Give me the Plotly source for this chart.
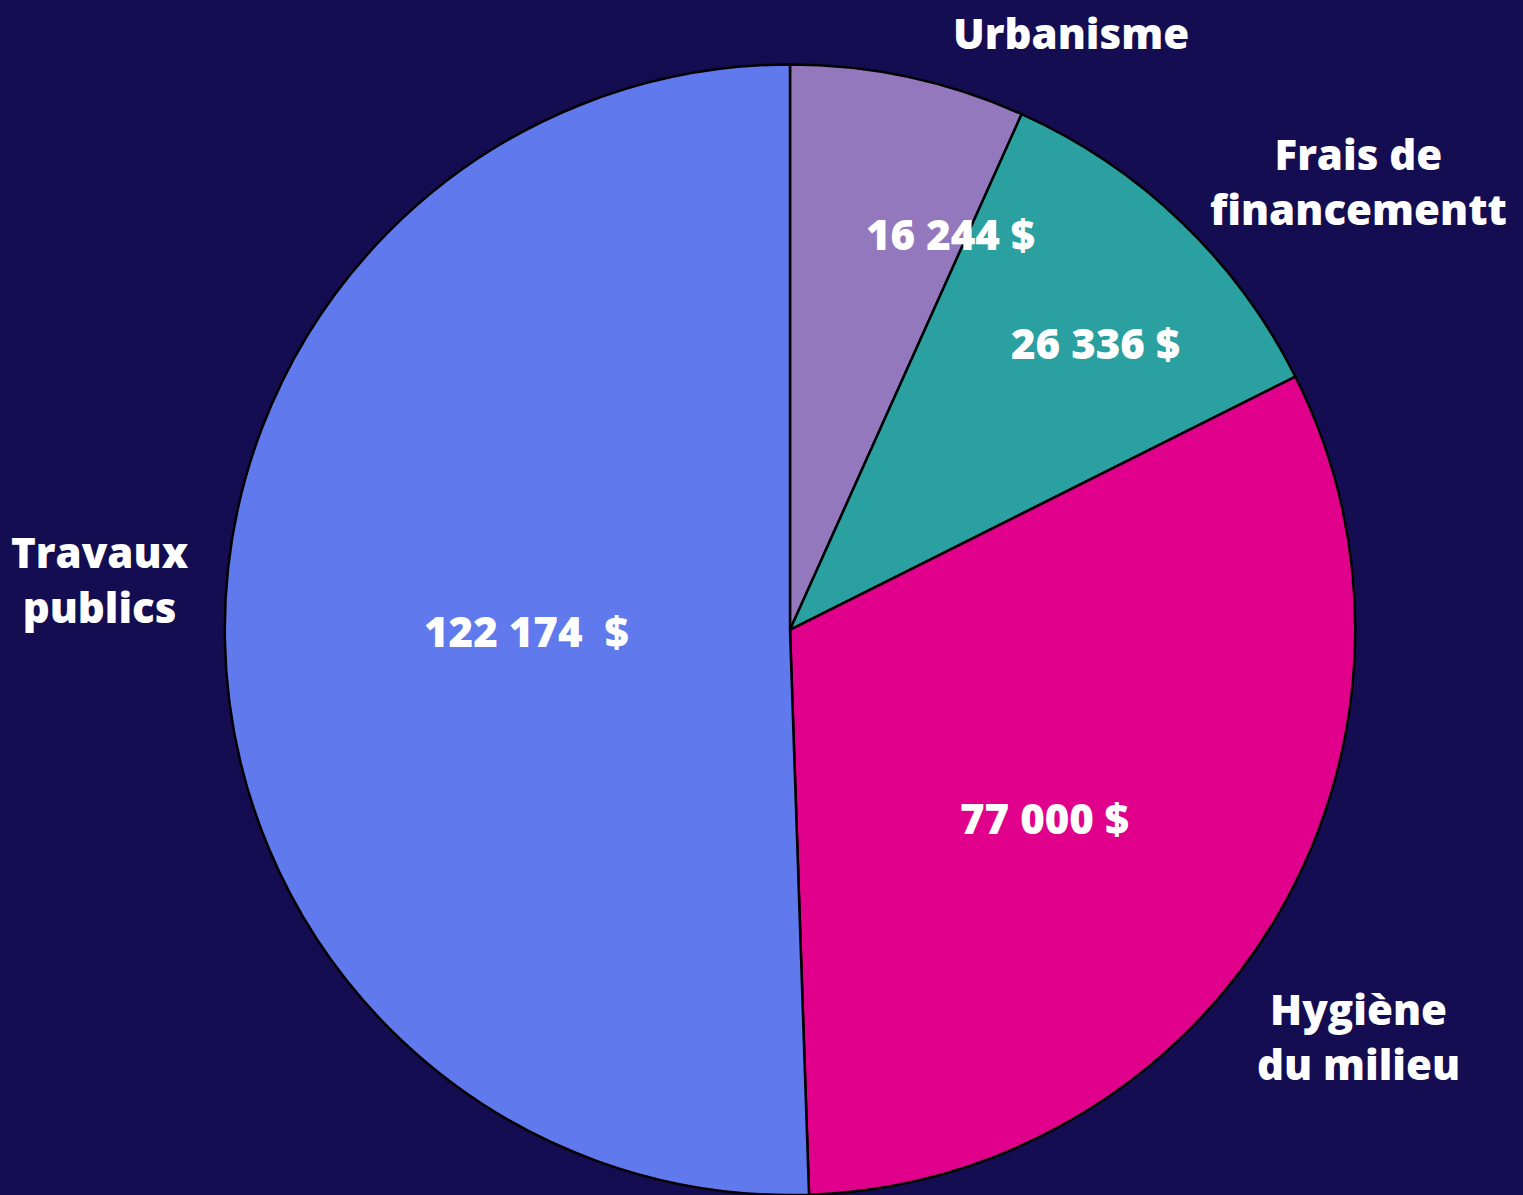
import plotly.graph_objects as go

categories = ["Urbanisme", "Frais de<br>financementt", "Hygiène<br>du milieu", "Travaux<br>publics"]
values = [16244, 26336, 77000, 122174]
value_texts = ["16 244 $", "26 336 $", "77 000 $", "122 174  $"]
colors = ["#9478bd", "#2aa0a0", "#e0008c", "#6079ec"]

BG = "#140d52"
FONT = "Open Sans"

fig = go.Figure()
fig.add_trace(go.Pie(
    labels=categories,
    values=values,
    sort=False,
    direction="clockwise",
    rotation=0,
    marker=dict(colors=colors, line=dict(color="#000000", width=2.5)),
    textinfo="none",
    hoverinfo="label+value",
    showlegend=False,
    domain=dict(x=[0.14757, 0.88986], y=[0.0, 0.946]),
))

# outside category labels
label_pos = [(0.7032, 0.9732), (0.8917, 0.8485), (0.8917, 0.1331), (0.0657, 0.5155)]
# inside value labels
value_pos = [(0.6244, 0.8050), (0.7196, 0.7130), (0.6861, 0.3155), (0.3460, 0.4728)]

for cat, (x, y) in zip(categories, label_pos):
    fig.add_annotation(x=x, y=y, xref="paper", yref="paper", text=cat, showarrow=False,
                       xanchor="center", yanchor="middle", align="center",
                       font=dict(family=FONT, size=42, color="white", weight=800))
for t, (x, y) in zip(value_texts, value_pos):
    fig.add_annotation(x=x, y=y, xref="paper", yref="paper", text=t, showarrow=False,
                       xanchor="center", yanchor="middle", align="center",
                       font=dict(family=FONT, size=42, color="white", weight=800))

fig.update_layout(
    width=1523, height=1195,
    margin=dict(l=0, r=0, t=0, b=0),
    paper_bgcolor=BG, plot_bgcolor=BG,
)

fig.write_html("out.html")
